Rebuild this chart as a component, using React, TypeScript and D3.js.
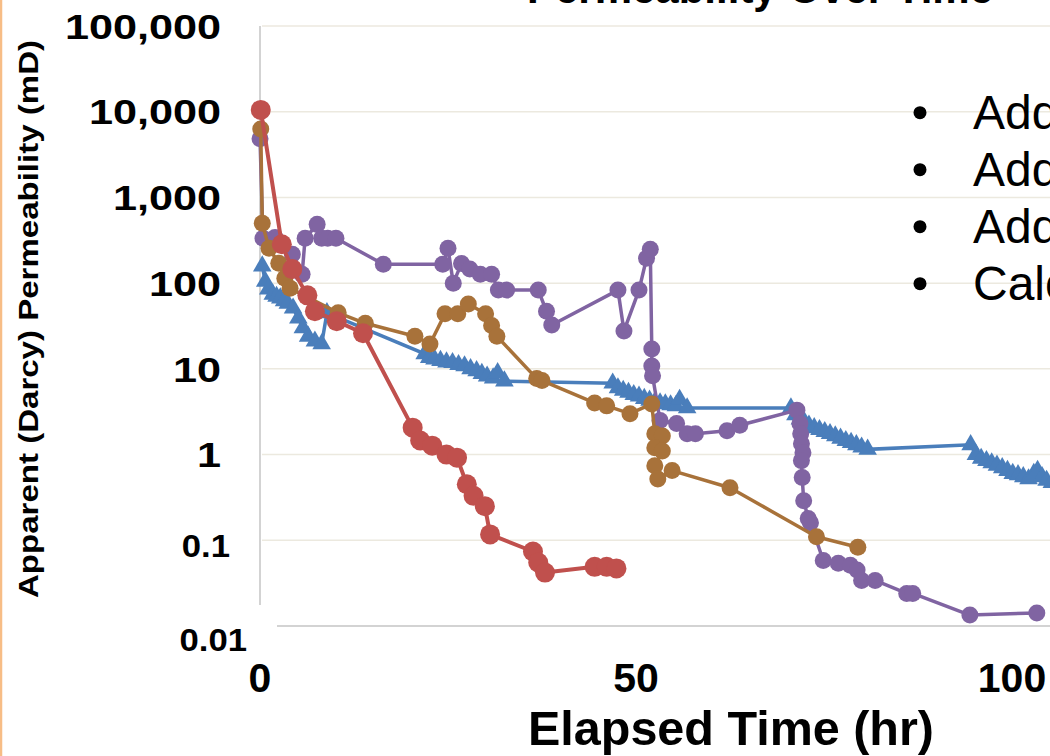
import React from 'react';
import * as d3 from 'd3';

// elapsed time (hr) and apparent permeability (mD)
const blueTime = [0.3, 0.7, 1.1, 1.7, 2.2, 2.7, 3.2, 3.7, 4.4, 5.1, 5.7, 6.4, 7.3, 8.2, 8.9,
  21.9, 22.5, 23.2, 24.0, 24.8, 25.6, 26.4, 27.2, 28.0, 28.8, 29.5, 30.2, 31.0, 31.6, 32.5,
  46.9, 47.6, 48.3, 49.0, 49.7, 50.4, 51.1, 51.8, 52.5, 53.2, 53.9, 54.6, 55.3, 55.8, 56.8,
  70.6, 71.2, 71.8, 72.4, 73.0, 73.7, 74.4, 75.1, 75.8, 76.5, 77.2, 77.9, 78.6, 79.3, 80.0, 80.8,
  94.5, 95.2, 95.9, 96.6, 97.3, 98.0, 98.7, 99.4, 100.1, 100.8, 101.5, 102.2, 102.9, 103.4, 104.0, 104.6, 105.3];
const blueK = [158, 105, 85, 74, 70, 67, 62, 58, 51, 39, 30, 24, 21, 19.5, 45,
  15, 13.5, 13, 12.5, 12, 11.8, 11.2, 10.8, 10, 9.5, 8.8, 8.2, 7.8, 9, 7.2,
  6.8, 6, 5.6, 5.3, 5, 4.8, 4.5, 4.3, 4.1, 4.0, 3.9, 3.8, 3.7, 4.4, 3.5,
  3.5, 2.9, 2.6, 2.4, 2.2, 2.05, 1.95, 1.85, 1.75, 1.65, 1.55, 1.45, 1.38, 1.3, 1.22, 1.15,
  1.3, 1.0, 0.9, 0.85, 0.8, 0.75, 0.7, 0.65, 0.6, 0.58, 0.55, 0.52, 0.6, 0.65, 0.55, 0.5, 0.47];

const redTime = [0.1, 2.9, 4.3, 6.3, 7.3, 10.2, 13.7, 20.3, 21.3, 22.9, 24.8, 26.2, 27.5, 28.4, 29.9,
  30.6, 36.3, 37.0, 37.9, 44.5, 46.1, 47.4];
const redK = [10500, 284, 146, 72, 47, 36, 26, 2.06, 1.46, 1.27, 1.0, 0.92, 0.45, 0.33, 0.25,
  0.117, 0.074, 0.055, 0.042, 0.049, 0.049, 0.047];

const brownTime = [0.1, 0.3, 1.2, 2.5, 3.3, 4.0, 10.4, 14.0, 20.6, 22.6, 24.6, 26.3, 27.7, 30.0, 30.8,
  31.5, 36.8, 37.5, 44.5, 46.1, 49.2, 52.1, 52.5, 53.5, 52.5, 53.5, 52.5, 52.9, 54.8, 62.5, 74.0, 79.5];
const brownK = [6300, 500, 255, 171, 114, 87, 45, 34, 24, 19.5, 44, 44, 57, 44, 32,
  24, 7.7, 7.3, 4.0, 3.7, 3.0, 3.9, 1.75, 1.65, 1.2, 1.1, 0.74, 0.52, 0.65, 0.41, 0.11, 0.083];

const purpleTime = [0, 0.4, 2.0, 4.3, 5.6, 6.0, 7.6, 8.2, 9.0, 10.1, 16.4, 24.3, 25.0, 25.7, 26.8,
  27.9, 29.3, 30.8, 31.7, 32.8, 37.0, 38.1, 38.8, 47.6, 48.4, 50.4, 51.4, 51.9, 52.1, 52.1, 52.2,
  53.2, 55.4, 56.8, 57.9, 62.1, 63.8, 71.4, 71.8, 71.9, 72.0, 72.2, 72.0, 72.1, 72.3, 72.9, 73.2,
  74.9, 76.9, 78.5, 79.4, 80.0, 81.8, 86.0, 86.8, 94.4, 103.3];
const purpleK = [4850, 334, 340, 217, 127, 334, 485, 334, 334, 334, 166, 166, 255, 100, 170,
  146, 127, 127, 83, 83, 83, 47, 32.5, 83, 27.7, 83, 195, 248, 17, 10.8, 8.3,
  2.5, 2.3, 1.75, 1.75, 1.9, 2.2, 3.3, 2.3, 1.75, 1.34, 1.05, 0.85, 0.54, 0.29, 0.18, 0.16,
  0.058, 0.054, 0.051, 0.045, 0.034, 0.034, 0.024, 0.024, 0.0134, 0.0142];

const yTicks = [100000, 10000, 1000, 100, 10, 1, 0.1, 0.01];
const yTickText = ['100,000', '10,000', '1,000', '100', '10', '1', '0.1', '0.01'];
const xTicks = [0, 50, 100];
const bullets = ['Add', 'Add', 'Add', 'Calc'];

const W = 1050;
const H = 756;

const App = () => {
  const x = d3.scaleLinear().domain([0, 100]).range([260, 1012]);
  const y = d3.scaleLog().domain([0.01, 100000]).range([626, 26]);

  const line = d3.line<[number, number]>().x(d => x(d[0])).y(d => y(d[1]));
  const zip = (t: number[], k: number[]) => t.map((v, i) => [v, k[i]] as [number, number]);

  const blue = zip(blueTime, blueK);
  const red = zip(redTime, redK);
  const brown = zip(brownTime, brownK);
  const purple = zip(purpleTime, purpleK);

  const tri = d3.symbol().type(d3.symbolTriangle).size(150)();

  const series = [
    { pts: purple, color: '#8064a2', r: 8.5, w: 3.5 },
    { pts: brown, color: '#a8723a', r: 8.5, w: 3.5 },
    { pts: red, color: '#c0504d', r: 10, w: 4 },
  ];

  return (
    <svg width={W} height={H} style={{ position: 'absolute', left: 0, top: 0, overflow: 'hidden', background: '#fff' }}
      fontFamily="'Liberation Sans', Arial, sans-serif">
      <rect x={0} y={0} width={W} height={H} fill="#fff" />
      <line x1={1} x2={1} y1={0} y2={H} stroke="#f7bd86" strokeWidth={2.5} />

      {/* title, mostly above the visible area */}
      <text x={760} y={3} textAnchor="middle" fontSize={42} fontWeight="bold" fill="#000">
        Permeability Over Time
      </text>

      {/* gridlines */}
      {yTicks.filter(t => t > 0.01).map(t => (
        <line key={t} x1={262} x2={W} y1={y(t)} y2={y(t)} stroke="#ece9df" strokeWidth={1.5} />
      ))}
      <line x1={277} x2={W} y1={y(0.01)} y2={y(0.01)} stroke="#c4c4c4" strokeWidth={1.5} />
      <line x1={260} x2={260} y1={y(100000)} y2={605} stroke="#c4c4c4" strokeWidth={1.5} />

      {/* y tick labels */}
      {yTicks.map((t, i) => {
        const small = t < 1;
        const ax = t === 0.01 ? 247 : t === 0.1 ? 230 : 221;
        const ay = t === 0.01 ? y(t) + 14 : t === 0.1 ? y(t) + 6 : y(t);
        return (
          <text key={t} transform={`translate(${ax},${ay}) scale(${small ? 1.12 : 1.2},1)`}
            textAnchor="end" dominantBaseline="central" fontSize={small ? 31 : 36} fontWeight="bold" fill="#000">
            {yTickText[i]}
          </text>
        );
      })}

      {/* x tick labels */}
      {xTicks.map(t => (
        <text key={t} x={x(t)} y={678} textAnchor="middle" dominantBaseline="central"
          fontSize={41} fontWeight="bold" fill="#000">{t}</text>
      ))}

      <text x={731} y={745} textAnchor="middle" fontSize={48.5} fontWeight="bold" fill="#000">
        Elapsed Time (hr)
      </text>
      <text transform="translate(38,319) rotate(-90)" textAnchor="middle" fontSize={28} fontWeight="bold"
        fill="#000" textLength={558} lengthAdjust="spacingAndGlyphs">
        Apparent (Darcy) Permeability (mD)
      </text>

      {/* blue triangles */}
      <path d={line(blue) || ''} fill="none" stroke="#4a7ebb" strokeWidth={3.5} />
      {blue.map((d, i) => (
        <path key={i} d={tri || ''} transform={`translate(${x(d[0])},${y(d[1])})`} fill="#4a7ebb" />
      ))}

      {series.map((s, si) => (
        <g key={si}>
          <path d={line(s.pts) || ''} fill="none" stroke={s.color} strokeWidth={s.w} strokeLinejoin="round" />
          {s.pts.map((d, i) => (
            <circle key={i} cx={x(d[0])} cy={y(d[1])} r={s.r} fill={s.color} />
          ))}
        </g>
      ))}

      {/* bullet list on the right, cut by the frame */}
      {bullets.map((b, i) => (
        <g key={i}>
          <circle cx={920} cy={y(10000) + 1 + i * 57} r={6.5} fill="#000" />
          <text x={973} y={y(10000) + 1 + i * 57} dominantBaseline="central" fontSize={48} fill="#000">{b}</text>
        </g>
      ))}
    </svg>
  );
};

export default App;
